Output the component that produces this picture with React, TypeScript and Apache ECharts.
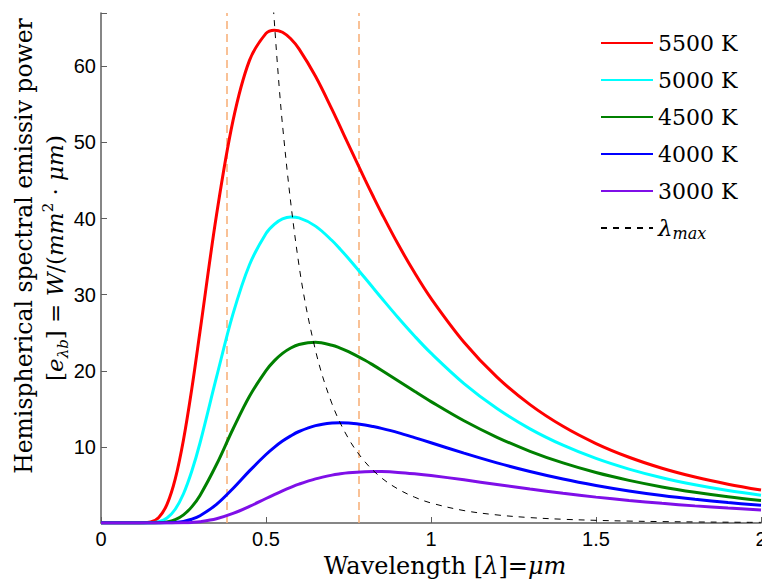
import React, { useEffect, useRef } from "react";
import * as echarts from "echarts";

// Wavelength grid (µm) shared by the temperature curves
const WAVELENGTHS = [
  0, 0.05, 0.1, 0.15, 0.175, 0.2, 0.225, 0.25, 0.275, 0.3,
  0.35, 0.4, 0.45, 0.5, 0.525, 0.55, 0.575, 0.6, 0.65, 0.7, 0.725, 0.75, 0.8, 0.825, 0.85, 0.9, 0.95, 1.0,
  1.1, 1.2, 1.3, 1.4, 1.5, 1.6, 1.7, 1.8, 1.9, 2.0,
];

const SERIES_NAMES = ["5500 K", "5000 K", "4500 K", "4000 K", "3000 K"];
const SERIES_COLORS = ["#ff0000", "#00ffff", "#008000", "#0000ff", "#7f0fe8"];

const E_5500 = [
  0, 0, 0, 0.131, 0.734, 2.44, 5.79, 10.94, 17.59, 25.15,
  40.45, 52.86, 60.78, 64.32, 64.75, 64.47, 63.61, 62.28, 58.68, 54.34, 52.03, 49.71, 45.12, 42.89, 40.73, 36.64, 32.9, 29.51,
  23.75, 19.17, 15.55, 12.7, 10.44, 8.64, 7.2, 6.04, 5.1, 4.33,
];
const E_5000 = [
  0, 0, 0, 0.023, 0.165, 0.66, 1.81, 3.84, 6.79, 10.51,
  19.15, 27.47, 33.93, 38.03, 39.23, 39.94, 40.2, 40.09, 39.0, 37.11, 35.97, 34.75, 32.18, 30.87, 29.56, 27.0, 24.57, 22.31,
  18.32, 15.04, 12.37, 10.22, 8.48, 7.08, 5.94, 5.02, 4.26, 3.64,
];
const E_4500 = [
  0, 0, 0, 0.003, 0.027, 0.133, 0.437, 1.07, 2.12, 3.62,
  7.68, 12.35, 16.66, 20.03, 21.3, 22.28, 22.99, 23.45, 23.74, 23.36, 22.98, 22.52, 21.38, 20.74, 20.07, 18.69, 17.3, 15.95,
  13.43, 11.26, 9.42, 7.89, 6.63, 5.6, 4.74, 4.04, 3.45, 2.96,
];
const E_4000 = [
  0, 0, 0, 0, 0.003, 0.018, 0.074, 0.216, 0.496, 0.956,
  2.45, 4.54, 6.85, 9.0, 9.94, 10.76, 11.45, 12.02, 12.79, 13.14, 13.18, 13.14, 12.88, 12.67, 12.43, 11.87, 11.22, 10.54,
  9.18, 7.9, 6.76, 5.77, 4.93, 4.21, 3.61, 3.11, 2.68, 2.32,
];
const E_3000 = [
  0, 0, 0, 0, 0, 0.001, 0.008, 0.028, 0.077, 0.172,
  0.565, 1.26, 2.19, 3.22, 3.73, 4.22, 4.68, 5.1, 5.79, 6.29, 6.46, 6.59, 6.74, 6.76, 6.75, 6.65, 6.47, 6.24,
  5.67, 5.06, 4.46, 3.9, 3.4, 2.96, 2.58, 2.25, 1.96, 1.72,
];
const SERIES_VALUES = [E_5500, E_5000, E_4500, E_4000, E_3000];

// Locus of the peaks (λmax)
const LMAX_WAVELENGTHS = [
  0.52, 0.55, 0.6, 0.65, 0.7, 0.75, 0.8, 0.85, 0.9, 0.95, 1.0,
  1.1, 1.2, 1.3, 1.4, 1.5, 1.6, 1.7, 1.8, 1.9, 2.0,
];
const LMAX_VALUES = [
  69.2, 52.3, 33.85, 22.68, 15.66, 11.09, 8.03, 5.93, 4.46, 3.4, 2.63,
  1.63, 1.06, 0.71, 0.49, 0.35, 0.25, 0.185, 0.139, 0.106, 0.082,
];
const LMAX_NAME = "λmax";

// Visible band limits (µm)
const VISIBLE_LIMITS = [0.375, 0.775];

const X_MIN = 0;
const X_MAX = 2;
const X_INTERVAL = 0.5;
const Y_MIN = 0;
const Y_MAX = 67;
const Y_INTERVAL = 10;

const SERIF = '"DejaVu Serif", "Liberation Serif", serif';
const SANS = '"Liberation Sans", Arial, sans-serif';

export default function App() {
  const ref = useRef<HTMLDivElement>(null);

  useEffect(() => {
    document.body.style.margin = "0";
    if (!ref.current) return;
    const chart = echarts.init(ref.current, undefined, { renderer: "svg" });

    const axisColor = "#5e5e5e";

    const curveSeries = SERIES_NAMES.map((name, i) => ({
      name,
      type: "line",
      data: WAVELENGTHS.map((w, j) => [w, SERIES_VALUES[i][j]]),
      smooth: 0.35,
      symbol: "none",
      showSymbol: false,
      clip: true,
      lineStyle: { color: SERIES_COLORS[i], width: 3 },
      itemStyle: { color: SERIES_COLORS[i] },
      z: 3,
      ...(i === 0
        ? {
            markLine: {
              silent: true,
              symbol: ["none", "none"],
              label: { show: false },
              lineStyle: { color: "#f7ad74", type: [8, 5], width: 1.5 },
              data: VISIBLE_LIMITS.map((v) => ({ xAxis: v })),
              z: 1,
            },
          }
        : {}),
    }));

    const option: any = {
      animation: false,
      backgroundColor: "#ffffff",
      grid: {
        left: 101,
        right: 1,
        top: 13,
        bottom: 58,
        containLabel: false,
        outerBoundsMode: "none",
      },
      xAxis: {
        type: "value",
        min: X_MIN,
        max: X_MAX,
        interval: X_INTERVAL,
        axisLine: { show: true, lineStyle: { color: axisColor, width: 1.5 } },
        axisTick: { show: true, inside: true, length: 6, lineStyle: { color: axisColor } },
        splitLine: { show: false },
        axisLabel: {
          color: "#000",
          fontFamily: SANS,
          fontSize: 20,
          margin: 6,
          formatter: (v: number) => String(v),
        },
      },
      yAxis: {
        type: "value",
        min: Y_MIN,
        max: Y_MAX,
        interval: Y_INTERVAL,
        axisLine: { show: true, lineStyle: { color: axisColor, width: 1.5 } },
        axisTick: { show: true, inside: true, length: 6, lineStyle: { color: axisColor } },
        splitLine: { show: false },
        axisLabel: {
          color: "#000",
          fontFamily: SANS,
          fontSize: 20,
          margin: 5,
          formatter: (v: number) => (v === 0 || v % Y_INTERVAL !== 0 ? "" : String(v)),
        },
      },
      legend: {
        data: [...SERIES_NAMES, LMAX_NAME],
        orient: "vertical",
        left: 600,
        top: 30,
        padding: 0,
        itemWidth: 52,
        itemHeight: 14,
        itemGap: 11,
        itemStyle: { opacity: 0, color: "transparent", borderColor: "transparent", borderWidth: 0 },
        formatter: (name: string) => (name === LMAX_NAME ? "{i|λ}{s|max}" : name),
        textStyle: {
          color: "#000",
          fontFamily: SERIF,
          fontSize: 22,
          lineHeight: 26,
          rich: {
            i: { fontFamily: SERIF, fontSize: 23, fontStyle: "italic", lineHeight: 26, color: "#000" },
            s: {
              fontFamily: SERIF,
              fontSize: 16,
              fontStyle: "italic",
              lineHeight: 14,
              verticalAlign: "bottom",
              color: "#000",
            },
          },
        },
      },
      graphic: [
        {
          type: "text",
          x: 24,
          y: 246,
          rotation: Math.PI / 2,
          style: {
            text: "Hemispherical spectral emissiv power",
            fontFamily: SERIF,
            fontSize: 23.5,
            fill: "#000",
            align: "center",
            verticalAlign: "middle",
          },
        },
        {
          type: "text",
          x: 55,
          y: 258,
          rotation: Math.PI / 2,
          style: {
            text: "[{i|e}{sub|λb}] = {i|W}/({i|mm}{sup|2} · {i|μm})",
            fontFamily: SERIF,
            fontSize: 23,
            lineHeight: 30,
            fill: "#000",
            align: "center",
            verticalAlign: "middle",
            rich: {
              i: { fontFamily: SERIF, fontSize: 23, fontStyle: "italic", lineHeight: 30 },
              sub: {
                fontFamily: SERIF,
                fontSize: 15,
                fontStyle: "italic",
                lineHeight: 14,
                verticalAlign: "bottom",
              },
              sup: {
                fontFamily: SERIF,
                fontSize: 15,
                lineHeight: 14,
                verticalAlign: "top",
              },
            },
          },
        },
        {
          type: "text",
          x: 445,
          y: 566,
          style: {
            text: "Wavelength [{i|λ}]={i|μm}",
            fontFamily: SERIF,
            fontSize: 24,
            fill: "#000",
            align: "center",
            verticalAlign: "middle",
            rich: {
              i: { fontFamily: SERIF, fontSize: 24, fontStyle: "italic" },
            },
          },
        },
      ],
      series: [
        ...curveSeries,
        {
          name: LMAX_NAME,
          type: "line",
          data: LMAX_WAVELENGTHS.map((w, j) => [w, LMAX_VALUES[j]]),
          smooth: 0.35,
          symbol: "none",
          showSymbol: false,
          clip: true,
          lineStyle: { color: "#000", width: 1, type: [6, 6] },
          itemStyle: { color: "#000" },
          z: 4,
        },
      ],
    };

    chart.setOption(option);
    return () => chart.dispose();
  }, []);

  return <div ref={ref} style={{ width: 762, height: 581 }} />;
}
